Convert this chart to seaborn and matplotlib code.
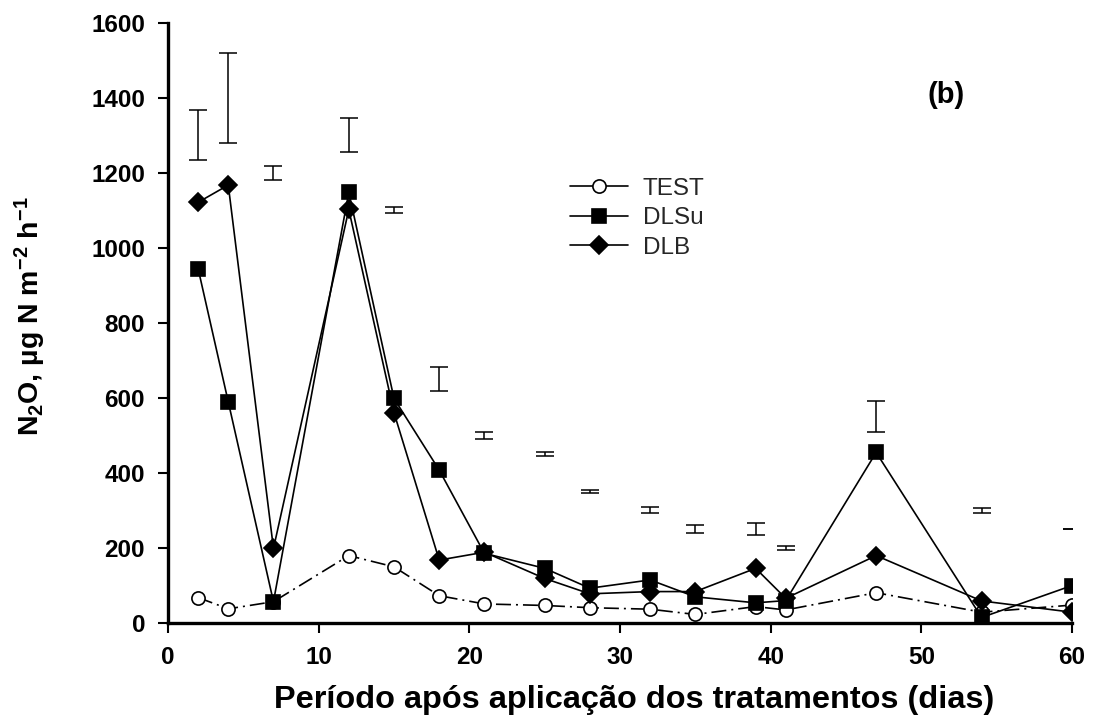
import pandas as pd
import matplotlib
matplotlib.use('Agg')
import matplotlib.pyplot as plt
from matplotlib.lines import Line2D
import seaborn as sns

# dias de amostragem
dias = [2, 4, 7, 12, 15, 18, 21, 25, 28, 32, 35, 39, 41, 47, 54, 60]

# fluxos de N2O (ug N m-2 h-1)
test = [67, 37, 56, 179, 149, 72, 50, 46, 40, 36, 22, 43, 34, 80, 28, 47]
dlsu = [944, 589, 56, 1148, 598, 407, 185, 145, 92, 114, 69, 53, 59, 454, 14, 99]
dlb = [1121, 1167, 198, 1102, 560, 167, 188, 118, 77, 83, 83, 145, 65, 179, 58, 28]

# barras de erro (desenhadas acima das curvas)
erro_centro = [1300, 1400, 1200, 1300, 1100, 650, 500, 450, 350, 300, 250, 250, 200, 550, 300, 250]
erro_meio = [66, 120, 19, 46, 8, 33, 9, 5, 4, 8, 10, 15, 5, 42, 7, 1]

series = ['TEST', 'DLSu', 'DLB']

sns.set_theme(style='ticks')
plt.rcParams['font.family'] = ['Liberation Sans', 'DejaVu Sans']
plt.rcParams['mathtext.fontset'] = 'custom'
plt.rcParams['mathtext.default'] = 'regular'

df = pd.DataFrame({'dia': dias, 'TEST': test, 'DLSu': dlsu, 'DLB': dlb})

fig = plt.figure(figsize=(10.93, 7.25), dpi=100)
ax = fig.add_axes([0.1537, 0.1411, 0.8271, 0.8276])

line_kw = dict(color='black', linewidth=1.2, markeredgecolor='black', markeredgewidth=1.2)
estilo = {
    'TEST': dict(marker='o', markersize=9.5, markerfacecolor='white'),
    'DLSu': dict(marker='s', markersize=10.5, markerfacecolor='black'),
    'DLB': dict(marker='D', markersize=9, markerfacecolor='black'),
}

sns.lineplot(data=df, x='dia', y='TEST', ax=ax, linestyle=(0, (9, 3, 1.2, 3)),
             legend=False, **estilo['TEST'], **line_kw)
sns.lineplot(data=df, x='dia', y='DLSu', ax=ax, linestyle='-',
             legend=False, **estilo['DLSu'], **line_kw)
sns.lineplot(data=df, x='dia', y='DLB', ax=ax, linestyle='-',
             legend=False, **estilo['DLB'], **line_kw)

ax.errorbar(dias, erro_centro, yerr=erro_meio, fmt='none', ecolor='black',
            elinewidth=1.1, capsize=6.8, capthick=1.1)

ax.set_xlim(0, 60)
ax.set_ylim(0, 1600)
ax.set_xticks(range(0, 61, 10))
ax.set_yticks(range(0, 1601, 200))

sns.despine(ax=ax)
for s in ['left', 'bottom']:
    ax.spines[s].set_linewidth(2.4)
    ax.spines[s].set_color('black')
ax.tick_params(axis='both', direction='out', length=7.5, width=1.5, pad=9,
               colors='black', labelsize=17.5)
for lab in ax.get_xticklabels() + ax.get_yticklabels():
    lab.set_fontweight('bold')

ax.set_xlabel('Período após aplicação dos tratamentos (dias)', fontsize=23.4,
              fontweight='bold', color='black')
ax.set_ylabel(r'N$_{2}$O, µg N m$^{-2}$ h$^{-1}$', fontsize=20.5,
              fontweight='bold', color='black')
ax.xaxis.set_label_coords(0.5155, -0.103)
ax.yaxis.set_label_coords(-0.133, 0.511)

ax.text(0.8606, 0.8795, '(b)', transform=ax.transAxes, fontsize=21,
        fontweight='bold', ha='center', va='center', color='black')

# legenda com linhas cheias, como no original
handles = [Line2D([], [], linestyle='-', **estilo[s], **line_kw) for s in series]
ax.legend(handles, series, frameon=False, loc='upper left',
          bbox_to_anchor=(0.4447, 0.742), borderpad=0, borderaxespad=0,
          handlelength=2.4, handletextpad=0.6, labelspacing=0.31,
          fontsize=17.5)

fig.savefig('out.png', dpi=100)
